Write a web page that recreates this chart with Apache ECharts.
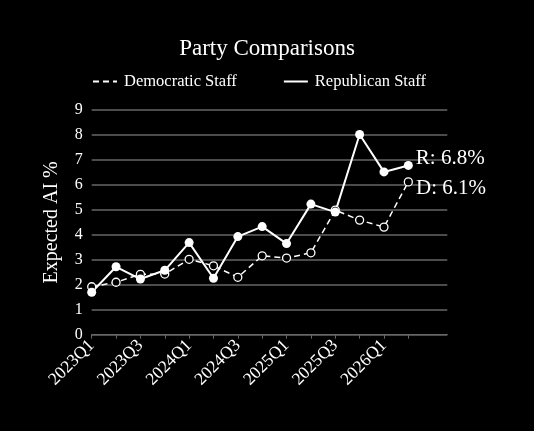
<!DOCTYPE html>
<html>
<head>
<meta charset="utf-8">
<script src="https://cdn.jsdelivr.net/npm/echarts@6/dist/echarts.min.js"></script>
<style>
  html, body { margin: 0; padding: 0; background: #000; }
  #chart { width: 534px; height: 431px; }
</style>
</head>
<body>
<div id="chart"></div>
<script>
// quarters on the x axis (one per data point)
const quarters = ['2023Q1', '2023Q2', '2023Q3', '2023Q4', '2024Q1', '2024Q2', '2024Q3',
  '2024Q4', '2025Q1', '2025Q2', '2025Q3', '2025Q4', '2026Q1', '2026Q2'];

// expected AI % per party
const democratic = [1.92, 2.10, 2.42, 2.43, 3.02, 2.76, 2.30, 3.16, 3.07, 3.28, 4.99, 4.59, 4.31, 6.12];
const republican = [1.70, 2.72, 2.23, 2.58, 3.69, 2.26, 3.93, 4.33, 3.65, 5.23, 4.91, 8.02, 6.52, 6.78];

const yTicks = [0, 1, 2, 3, 4, 5, 6, 7, 8, 9];

const font = '"Liberation Serif", "DejaVu Serif", serif';
const gray = '#666';

// [index, value] pairs so the x axis can run past the last quarter
const toPoints = (vals, endLabel, offset) => vals.map((v, i) => {
  const item = { value: [i, v] };
  if (i === vals.length - 1) {
    item.label = {
      show: true, position: 'right', distance: 3, offset: offset,
      formatter: endLabel + ': ' + v.toFixed(1) + '%',
      color: '#fff', fontFamily: font, fontSize: 21
    };
  }
  return item;
});

const chart = echarts.init(document.getElementById('chart'));

chart.setOption({
  backgroundColor: '#000',
  textStyle: { fontFamily: font, color: '#fff' },
  title: {
    text: 'Party Comparisons',
    left: 'center',
    top: 32,
    textStyle: { fontFamily: font, fontSize: 23, fontWeight: 'normal', color: '#fff' }
  },
  legend: {
    top: 68,
    left: 87,
    itemWidth: 24,
    itemHeight: 10,
    itemGap: 46,
    itemStyle: { opacity: 0 },
    textStyle: { fontFamily: font, fontSize: 16.5, color: '#fff', padding: [0, 0, 0, 2] },
    data: ['Democratic Staff', 'Republican Staff']
  },
  grid: { left: 91.7, right: 86.7, top: 110, bottom: 96.3, containLabel: false },
  xAxis: {
    type: 'value',
    min: 0,
    max: 14.6,
    interval: 1,
    splitLine: { show: false },
    axisLine: { show: true, lineStyle: { color: gray, width: 1 } },
    axisTick: {
      show: true, length: 4, lineStyle: { color: gray },
      customValues: quarters.map((q, i) => i)
    },
    axisLabel: {
      color: '#fff', fontFamily: font, fontSize: 17.5, rotate: 45, margin: 8,
      customValues: quarters.map((q, i) => i).filter(i => i % 2 === 0),
      formatter: v => quarters[v]
    }
  },
  yAxis: {
    type: 'value',
    min: yTicks[0],
    max: yTicks[yTicks.length - 1],
    interval: 1,
    name: 'Expected AI %',
    nameLocation: 'middle',
    nameGap: 30,
    nameTextStyle: { color: '#fff', fontFamily: font, fontSize: 20 },
    axisLine: { show: false },
    axisTick: { show: false },
    axisLabel: { color: '#fff', fontFamily: font, fontSize: 16, margin: 9 },
    splitLine: { show: true, lineStyle: { color: gray, width: 1.5 } }
  },
  series: [
    {
      name: 'Democratic Staff',
      type: 'line',
      data: toPoints(democratic, 'D', [0, 7]),
      symbol: 'circle',
      symbolSize: 8,
      lineStyle: { color: '#fff', width: 1.5, type: [6, 4] },
      itemStyle: { color: '#000', borderColor: '#fff', borderWidth: 1.3 },
      animation: false
    },
    {
      name: 'Republican Staff',
      type: 'line',
      data: toPoints(republican, 'R', [0, -7]),
      symbol: 'circle',
      symbolSize: 9,
      lineStyle: { color: '#fff', width: 2 },
      itemStyle: { color: '#fff', borderColor: '#fff', borderWidth: 0 },
      animation: false
    }
  ]
});
</script>
</body>
</html>
